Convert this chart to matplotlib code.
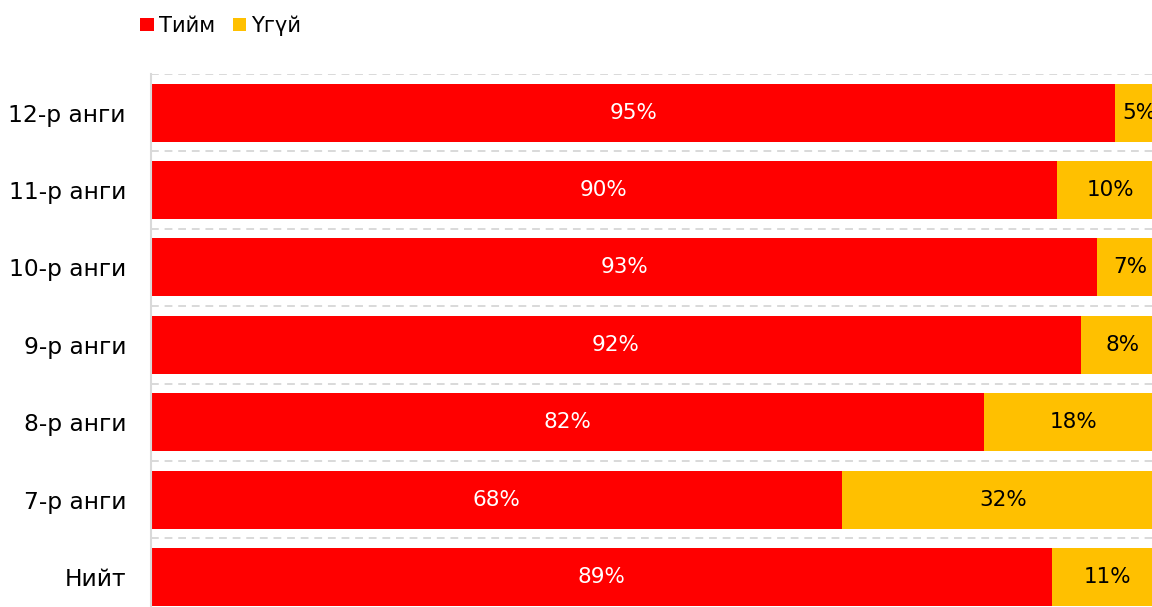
import matplotlib.pyplot as plt
import numpy as np

CATEGORIES = ["Нийт", "7-р анги", "8-р анги", "9-р анги", "10-р анги", "11-р анги", "12-р анги"]
YES = [88.9, 68.2, 82.2, 91.8, 93.4, 89.4, 95.2]
NO = [11.1, 31.8, 17.8, 8.2, 6.6, 10.6, 4.8]
YES_LABELS = ["89%", "68%", "82%", "92%", "93%", "90%", "95%"]
NO_LABELS = ["11%", "32%", "18%", "8%", "7%", "10%", "5%"]
SERIES = ["Тийм", "Үгүй"]

RED = "#ff0000"
YELLOW = "#ffc000"
GRID = "#d9d9d9"

plt.rcParams["font.family"] = ["DejaVu Sans"]

fig = plt.figure(figsize=(11.52, 6.07), dpi=100)
# plot area runs past the right and bottom edges of the picture
ax = fig.add_axes([151 / 1152, 0, 1013 / 1152, (607 - 74) / 607])

y = np.arange(len(CATEGORIES))
h = 0.75
ax.barh(y, YES, height=h, color=RED, label=SERIES[0], zorder=2)
ax.barh(y, NO, left=YES, height=h, color=YELLOW, label=SERIES[1], zorder=2)

for yi, v, n, lv, ln in zip(y, YES, NO, YES_LABELS, NO_LABELS):
    ax.text(v / 2, yi, lv, color="white", ha="center", va="center", fontsize=15.5)
    ax.text(v + n / 2, yi, ln, color="black", ha="center", va="center", fontsize=15.5)

# dashed gridlines between the categories
for b in np.arange(-0.5, len(CATEGORIES), 1.0):
    ax.axhline(b, color=GRID, linestyle=(0, (4, 3)), linewidth=1.4, zorder=1)

ax.set_xlim(0, 100)
ax.set_ylim(-0.388, len(CATEGORIES) - 0.5)
ax.set_yticks(y)
ax.set_yticklabels(CATEGORIES, fontsize=16.8)
ax.set_xticks([])
ax.tick_params(axis="y", length=0, pad=18)
for s in ["top", "right", "bottom"]:
    ax.spines[s].set_visible(False)
ax.spines["left"].set_color(GRID)
ax.spines["left"].set_linewidth(1.5)

fig.legend(
    loc="upper left",
    bbox_to_anchor=(132 / 1152, 1 - 7 / 607),
    ncol=2,
    frameon=False,
    fontsize=15.2,
    handlelength=0.62,
    handleheight=0.62,
    handletextpad=0.25,
    columnspacing=0.85,
    borderaxespad=0,
)

fig.savefig("out.png", dpi=100)
